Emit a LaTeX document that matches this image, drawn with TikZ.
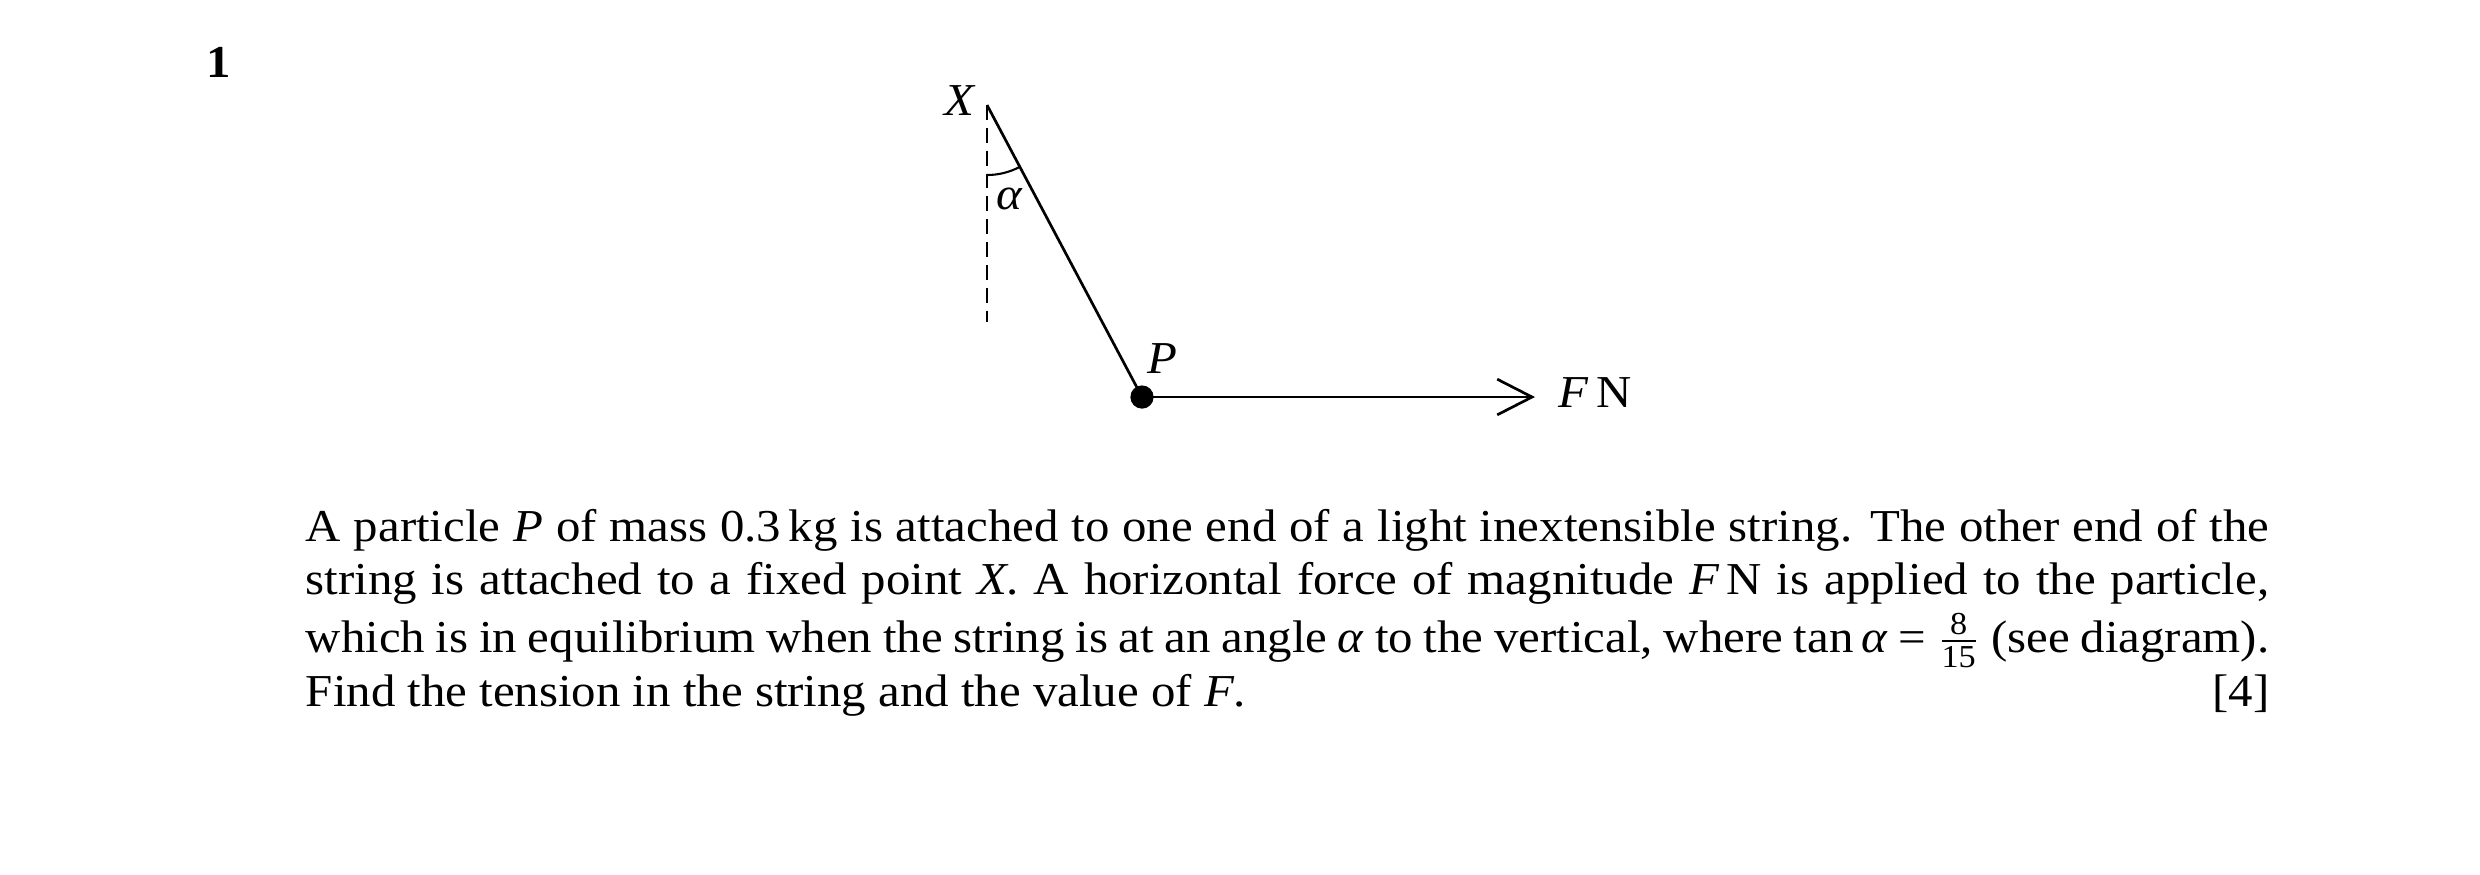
\documentclass[tikz,border=0pt]{standalone}
\usepackage{amsmath}
\usepackage{fontspec}
\setmainfont{Liberation Serif}[FakeStretch=1.07]
\usepackage{tikz}
\usetikzlibrary{arrows.meta}

\tikzset{
  particle/.style={circle, fill=black, inner sep=0pt, minimum size=5.6pt},
  lbl/.style={inner sep=0pt, font=\fontsize{11}{13}\selectfont\itshape},
  string/.style={line width=0.65pt},
}

\begin{document}
\begin{tikzpicture}[x=0.2409pt, y=-0.2409pt]
  \useasboundingbox (0,0) rectangle (2480,874);
  % question number
  \node[anchor=base west, inner sep=0pt, font=\fontsize{11}{13}\selectfont\bfseries] (num) at (206,77) {1};
  % the string and the force
  \coordinate (X) at (987,105);
  \coordinate (V) at (987,322);
  \node[particle] (P) at (1142,397) {};
  \coordinate (Fend) at (1535,397);
  \draw[line width=0.5pt, dash pattern=on 3.6pt off 1.9pt] (X) -- (V);
  \draw[string] (X) -- (P.center);
  \draw[string, -{Straight Barb[length=8.4pt, width=8.6pt, line width=0.65pt]}] (P.center) -- (Fend);
  \draw[line width=0.5pt] ([shift={(0,70)}]X) arc[start angle=-90, end angle=-61.93, radius=16.86pt];
  \node[lbl] (Xlab) at (959,101) {X};
  \node[lbl] (alab) at (1009,199) {α};
  \node[lbl] (Plab) at (1162,359) {P};
  \node[lbl, anchor=west] (Flab) at (1558,393) {F\,\upshape N};
  % question text
  \node[anchor=north west, inner sep=0pt, text width=473pt, align=justify,
        font=\fontsize{11}{13}\selectfont] (question) at (305,508) {%
    A particle \textit{P} of mass 0.3\,kg is attached to one end of a light inextensible string. The other end of the\linebreak
    string is attached to a fixed point \textit{X}. A horizontal force of magnitude \textit{F}\,N is applied to the particle,\vadjust{\kern0.8pt}\linebreak
    which is in equilibrium when the string is at an angle \textit{α} to the vertical, where tan\,\textit{α} = $\frac{\text{8}}{\text{15}}$ (see diagram).\linebreak
    Find the tension in the string and the value of \textit{F}.\hfill[4]};
\end{tikzpicture}
\end{document}
